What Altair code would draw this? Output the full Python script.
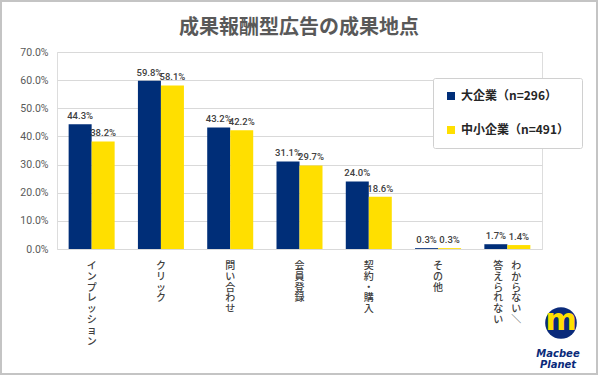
import altair as alt
import pandas as pd

title_text = "成果報酬型広告の成果地点"
categories = ["インプレッション", "クリック", "問い合わせ", "会員登録", "契約・購入", "その他", "わからない/答えられない"]
large = [44.3, 59.8, 43.2, 31.1, 24.0, 0.3, 1.7]
small = [38.2, 58.1, 42.2, 29.7, 18.6, 0.3, 1.4]
series = ["大企業（n=296）", "中小企業（n=491）"]
colors = ["#002E78", "#FFDF00"]
y_ticks = [0, 10, 20, 30, 40, 50, 60, 70]

rows = []
for c, a, b in zip(categories, large, small):
    rows.append({"cat": c, "grp": series[0], "v": a})
    rows.append({"cat": c, "grp": series[1], "v": b})
df = pd.DataFrame(rows)

FONT = "Noto Sans CJK JP"
NUM = "Roboto"
W, H = 485, 197

xscale = alt.Scale(domain=categories, paddingInner=0.336, paddingOuter=0.168)
x = alt.X("cat:N", scale=xscale, sort=categories, axis=None)
y = alt.Y("v:Q", scale=alt.Scale(domain=[0, 70], nice=False),
          axis=alt.Axis(values=y_ticks, labelExpr="format(datum.value, '.1f') + '%'",
                        title=None, domain=False, ticks=False, labelPadding=9,
                        labelFontSize=10.5, labelColor="#595959", labelFont=NUM,
                        gridColor="#d9d9d9", gridWidth=1))

base = alt.Chart(df)
bars = base.mark_bar().encode(
    x=x, y=y,
    xOffset=alt.XOffset("grp:N", sort=series, scale=alt.Scale(domain=series)),
    color=alt.Color("grp:N", sort=series,
                    scale=alt.Scale(domain=series, range=colors),
                    legend=alt.Legend(title=None, orient="none", legendX=376, legendY=26,
                                      symbolType="square", symbolSize=64, symbolStrokeWidth=0,
                                      labelFontSize=12, labelFont=FONT, labelColor="#262626",
                                      labelFontWeight="bold", rowPadding=22, padding=12,
                                      strokeColor="#d0d0d0", fillColor="white",
                                      cornerRadius=2, labelOffset=4)),
)
labels = base.mark_text(baseline="bottom", dy=-3, fontSize=9.5, font=NUM,
                        color="#404040", fontWeight=500).transform_calculate(
    lbl="format(datum.v, '.1f') + '%'"
).encode(
    x=x, y=y,
    xOffset=alt.XOffset("grp:N", sort=series, scale=alt.Scale(domain=series)),
    text="lbl:N",
)

# vertical category labels
single = [{"cat": c, "t": "\n".join(list(c))} for c in categories[:-1]]
cat_df = pd.DataFrame(single)
last = categories[-1]
col1, col2 = last.split("/")
catx = alt.X("cat:N", scale=xscale, sort=categories, axis=None)
vt = dict(baseline="top", fontSize=10, font=FONT, color="#404040", lineHeight=10.8,
          lineBreak="\n", fontWeight=500)
cat_text = alt.Chart(cat_df).mark_text(**vt).encode(x=catx, y=alt.value(H + 12), text="t:N")
right_col = alt.Chart(pd.DataFrame([{"cat": last, "t": "\n".join(list(col1) + ["＼"])}])).mark_text(
    dx=9, **vt).encode(x=catx, y=alt.value(H + 12), text="t:N")
left_col = alt.Chart(pd.DataFrame([{"cat": last, "t": "\n".join(list(col2))}])).mark_text(
    dx=-9, **vt).encode(x=catx, y=alt.value(H + 12), text="t:N")

# title as text
title = alt.Chart(pd.DataFrame([{"t": title_text}])).mark_text(
    font=FONT, fontSize=20, fontWeight="bold", color="#595959", baseline="middle"
).encode(x=alt.value(W / 2 - 0.5), y=alt.value(28 - 52), text="t:N")

# frame and logo
frame = alt.Chart(pd.DataFrame([{"a": 0}])).mark_rect(
    fill=None, stroke="#c4c4c4", strokeWidth=2
).encode(x=alt.value(-56), x2=alt.value(W + 55), y=alt.value(-51), y2=alt.value(H + 125))
logo_circle = alt.Chart(pd.DataFrame([{"a": 0}])).mark_circle(
    color="#0A2A7A", opacity=1, size=1000
).encode(x=alt.value(561 - 57), y=alt.value(323 - 52))
logo_m = alt.Chart(pd.DataFrame([{"a": "m"}])).mark_text(
    font="DejaVu Sans", fontSize=30, fontWeight="bold", color="#FFDF00", baseline="middle"
).encode(x=alt.value(561 - 57), y=alt.value(321 - 52), text="a:N")
logo_txt = alt.Chart(pd.DataFrame([{"a": "Macbee\nPlanet"}])).mark_text(
    font="DejaVu Sans", fontSize=10, fontWeight="bold", fontStyle="italic",
    color="#0A2A7A", lineBreak="\n", lineHeight=11, baseline="top"
).encode(x=alt.value(558 - 57), y=alt.value(349 - 52), text="a:N")

chart = alt.layer(bars, labels, cat_text, right_col, left_col, title, frame,
                  logo_circle, logo_m, logo_txt).properties(
    width=W, height=H,
    padding={"left": 57, "top": 52, "right": 58, "bottom": 127},
    autosize=alt.AutoSizeParams(type="none"),
).configure_view(stroke=None).configure(background="white")

chart.save("out.html", embed_options={"renderer": "svg", "actions": False})
